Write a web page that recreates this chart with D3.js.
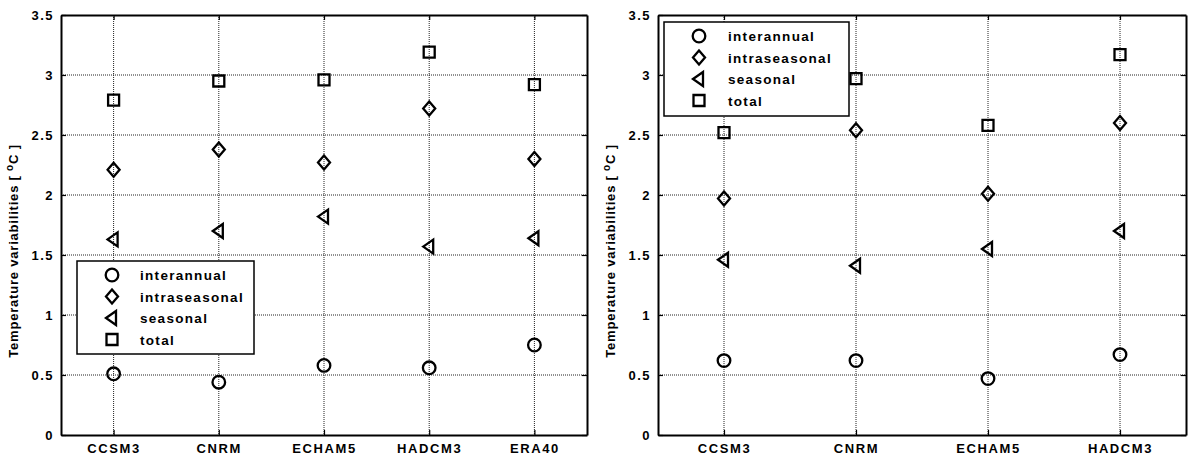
<!DOCTYPE html>
<html>
<head>
<meta charset="utf-8">
<style>
  body { margin: 0; background: #fff; }
  text { font-family: "Liberation Sans", Arial, sans-serif; font-weight: bold; fill: #000; }
</style>
</head>
<body>
<svg width="1191" height="459"></svg>
<script src="https://d3js.org/d3.v7.min.js"></script>
<script>
// left panel (with reanalysis)
const modelsA = ["CCSM3", "CNRM", "ECHAM5", "HADCM3", "ERA40"];
const interannualA   = [0.51, 0.44, 0.58, 0.56, 0.75];
const intraseasonalA = [2.21, 2.38, 2.27, 2.72, 2.30];
const seasonalA      = [1.63, 1.70, 1.82, 1.57, 1.64];
const totalA         = [2.79, 2.95, 2.96, 3.19, 2.92];

// right panel
const modelsB = ["CCSM3", "CNRM", "ECHAM5", "HADCM3"];
const interannualB   = [0.62, 0.62, 0.47, 0.67];
const intraseasonalB = [1.97, 2.54, 2.01, 2.60];
const seasonalB      = [1.46, 1.41, 1.55, 1.70];
const totalB         = [2.52, 2.97, 2.58, 3.17];

const yTicks = [0, 0.5, 1, 1.5, 2, 2.5, 3, 3.5];
const seriesNames = ["interannual", "intraseasonal", "seasonal", "total"];

const svg = d3.select("svg");
const FONT = "'Liberation Sans', Arial, sans-serif";

// marker paths centred on 0,0
const shapes = {
  interannual: d3.symbol(d3.symbolCircle, 125)(),
  intraseasonal: "M0,-7L6,0L0,7L-6,0Z",
  seasonal: "M-6,0L4,-7L4,7Z",
  total: "M-5.5,-5.5H5.5V5.5H-5.5Z"
};

function panel(opts) {
  const { left, right, top, bottom, models, series, legend } = opts;
  const g = svg.append("g");

  const x = d3.scaleLinear().domain([0.5, models.length + 0.5]).range([left, right]);
  const y = d3.scaleLinear().domain([0, 3.5]).range([bottom, top]);

  // grid
  g.append("g").selectAll("line").data(yTicks.slice(1, -1)).join("line")
    .attr("x1", left).attr("x2", right)
    .attr("y1", d => y(d)).attr("y2", d => y(d))
    .attr("stroke", "#222").attr("stroke-width", 1).attr("stroke-dasharray", "1,1");
  g.append("g").selectAll("line").data(d3.range(1, models.length + 1)).join("line")
    .attr("x1", d => x(d)).attr("x2", d => x(d))
    .attr("y1", top).attr("y2", bottom)
    .attr("stroke", "#222").attr("stroke-width", 1).attr("stroke-dasharray", "1,1");

  // axes with inward ticks, matlab style box
  const yAxis = g.append("g").attr("transform", `translate(${left},0)`)
    .call(d3.axisLeft(y).tickValues(yTicks).tickSizeInner(-5).tickSizeOuter(0)
      .tickPadding(7).tickFormat(d3.format("")));
  const yAxisR = g.append("g").attr("transform", `translate(${right},0)`)
    .call(d3.axisRight(y).tickValues(yTicks).tickSizeInner(-5).tickSizeOuter(0).tickFormat(""));
  const xAxis = g.append("g").attr("transform", `translate(0,${bottom})`)
    .call(d3.axisBottom(x).tickValues(d3.range(1, models.length + 1)).tickSizeInner(-5)
      .tickSizeOuter(0).tickPadding(9).tickFormat(d => models[d - 1]));
  const xAxisT = g.append("g").attr("transform", `translate(0,${top})`)
    .call(d3.axisTop(x).tickValues(d3.range(1, models.length + 1)).tickSizeInner(-5)
      .tickSizeOuter(0).tickFormat(""));

  [yAxis, yAxisR, xAxis, xAxisT].forEach(a => {
    a.select(".domain").attr("stroke", "#000").attr("stroke-width", 2);
    a.selectAll(".tick line").attr("stroke", "#000").attr("stroke-width", 1.2);
  });
  yAxis.selectAll("text").attr("font-size", 13).attr("letter-spacing", "1.5px")
    .style("font-family", FONT).style("font-weight", "bold");
  xAxis.selectAll("text").attr("font-size", 13).attr("letter-spacing", "1.6px")
    .style("font-family", FONT).style("font-weight", "bold");

  // y label
  const lbl = g.append("text")
    .attr("transform", `translate(${left - 43},${(top + bottom) / 2 + 26}) rotate(-90)`)
    .attr("text-anchor", "middle").attr("font-size", 13).attr("letter-spacing", "0.8px");
  lbl.append("tspan").text("Temperature variabilities [ ");
  lbl.append("tspan").attr("font-size", 10).attr("dy", -5).text("o");
  lbl.append("tspan").attr("dy", 5).text("C ]");

  // markers
  seriesNames.forEach((name, si) => {
    g.append("g").selectAll("path").data(series[si]).join("path")
      .attr("d", shapes[name])
      .attr("transform", (d, i) => `translate(${x(i + 1)},${y(d)})`)
      .attr("fill", "none").attr("stroke", "#000").attr("stroke-width", 2.3);
  });

  // legend
  const lg = g.append("g");
  lg.append("rect").attr("x", legend.x).attr("y", legend.y)
    .attr("width", legend.w).attr("height", legend.h)
    .attr("fill", "#fff").attr("stroke", "#000").attr("stroke-width", 1.5);
  seriesNames.forEach((name, i) => {
    const cy = legend.y + 14 + i * 21.5;
    lg.append("path").attr("d", shapes[name])
      .attr("transform", `translate(${legend.x + legend.sym},${cy})`)
      .attr("fill", "none").attr("stroke", "#000").attr("stroke-width", 2.3);
    lg.append("text").attr("x", legend.x + legend.txt).attr("y", cy + 5)
      .attr("font-size", 13.5).attr("letter-spacing", "1.3px").text(name);
  });
}

panel({
  left: 61, right: 587, top: 15, bottom: 435,
  models: modelsA,
  series: [interannualA, intraseasonalA, seasonalA, totalA],
  legend: { x: 77, y: 261, w: 177, h: 93, sym: 35, txt: 63 }
});

panel({
  left: 658, right: 1186, top: 15, bottom: 435,
  models: modelsB,
  series: [interannualB, intraseasonalB, seasonalB, totalB],
  legend: { x: 664, y: 22, w: 185, h: 94, sym: 35, txt: 64 }
});
</script>
</body>
</html>
